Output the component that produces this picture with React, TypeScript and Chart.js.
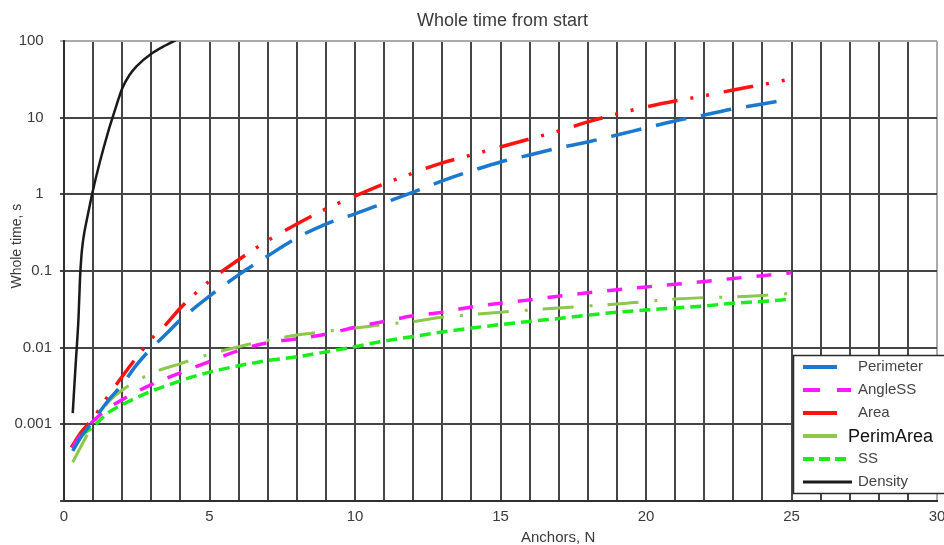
import React, { useEffect, useRef } from 'react';
import { Chart, registerables } from 'chart.js';

Chart.register(...registerables);

// ---------------- data ----------------
const TITLE = 'Whole time from start';
const X_TITLE = 'Anchors, N';
const Y_TITLE = 'Whole time, s';

const SERIES_NAMES = ['Perimeter', 'AngleSS', 'Area', 'PerimArea', 'SS', 'Density'];

const N_PERIMETER = [0.3, 0.6, 1, 1.5, 2, 2.5, 3, 3.5, 4, 5, 6, 7, 8, 9, 10, 11, 12, 13, 14, 15, 16, 17, 18, 19, 20, 21, 22, 23, 24, 25];
const PERIMETER = [0.00045, 0.0007, 0.0011, 0.002, 0.0033, 0.006, 0.0098, 0.015, 0.023, 0.047, 0.089, 0.157, 0.27, 0.41, 0.555, 0.77, 1.07, 1.5, 2.02, 2.64, 3.26, 4.03, 4.82, 5.95, 7.34, 9.06, 10.8, 13.0, 15.1, 17.5];

const N_AREA = [0.25, 0.6, 1, 1.5, 2, 2.5, 3, 3.5, 4, 5, 6, 7, 8, 9, 10, 11, 12, 13, 14, 15, 16, 17, 18, 19, 20, 21, 22, 23, 24, 25];
const AREA = [0.0005, 0.0008, 0.0012, 0.0023, 0.0042, 0.0075, 0.013, 0.02, 0.033, 0.074, 0.14, 0.25, 0.41, 0.645, 0.95, 1.37, 1.9, 2.57, 3.26, 4.15, 5.28, 6.7, 8.8, 11.2, 13.8, 16.5, 19.3, 23, 27, 32];

const N_SMALL = [0.3, 0.6, 1, 1.5, 2, 3, 4, 5, 6, 7, 8, 9, 10, 11, 12, 13, 14, 15, 16, 17, 18, 19, 20, 21, 22, 23, 24, 25];
const ANGLE_SS = [0.0005, 0.00075, 0.0011, 0.0016, 0.0021, 0.0033, 0.0047, 0.0066, 0.0092, 0.0116, 0.013, 0.015, 0.0185, 0.022, 0.026, 0.029, 0.034, 0.038, 0.042, 0.047, 0.052, 0.057, 0.062, 0.067, 0.073, 0.08, 0.087, 0.095];
const PERIM_AREA = [0.00032, 0.00053, 0.001, 0.0019, 0.0028, 0.0046, 0.0062, 0.0082, 0.0103, 0.0125, 0.0146, 0.0163, 0.018, 0.02, 0.022, 0.025, 0.027, 0.029, 0.031, 0.033, 0.035, 0.037, 0.04, 0.043, 0.045, 0.046, 0.048, 0.051];
const SS = [0.00048, 0.0007, 0.00093, 0.0014, 0.0018, 0.0027, 0.0037, 0.0048, 0.0058, 0.0068, 0.0076, 0.0088, 0.0103, 0.0122, 0.014, 0.016, 0.018, 0.02, 0.022, 0.024, 0.0265, 0.029, 0.031, 0.033, 0.035, 0.038, 0.04, 0.043];

const N_DENSITY = [0.3, 0.4, 0.5, 0.55, 0.6, 0.65, 0.7, 0.8, 1, 1.25, 1.5, 1.75, 2, 2.25, 2.5, 3, 3.5, 4];
const DENSITY = [0.0014, 0.006, 0.025, 0.08, 0.16, 0.24, 0.32, 0.5, 1.15, 2.8, 6.2, 12.5, 24, 36, 47, 68, 88, 110];

const Y_TICKS = [0.0001, 0.001, 0.01, 0.1, 1, 10, 100];
const Y_TICK_LABELS = ['', '0.001', '0.01', '0.1', '1', '10', '100'];
const X_MIN = 0;
const X_MAX = 30;
const X_LABEL_STEP = 5;

// ---------------- style ----------------
const FONT = '"Liberation Sans", Arial, sans-serif';
const TEXT = '#3a3a3a';
const GRID = '#454545';
const LIGHT = '#ababab';
const COLORS = ['#1a78cf', '#ff19ff', '#ff1212', '#8cc84b', '#1aee1a', '#1a1a1a'];
const DASHES = [[31, 15], [15, 15], [30, 13, 3, 13, 3, 15], [31, 16, 3, 15], [11, 6], []];
const WIDTHS = [3.5, 3.5, 3.5, 3, 3.5, 2.5];
const LEGEND_DASH = [[], [17, 17], [], [], [11, 5], []];

const toPoints = (xs: number[], ys: number[]) => xs.map((x, i) => ({ x, y: ys[i] }));

const SERIES_X = [N_PERIMETER, N_SMALL, N_AREA, N_SMALL, N_SMALL, N_DENSITY];
const SERIES_Y = [PERIMETER, ANGLE_SS, AREA, PERIM_AREA, SS, DENSITY];

const textPlugin = {
  id: 'textTitles',
  afterDraw(chart: any) {
    const ctx = chart.ctx as CanvasRenderingContext2D;
    const a = chart.chartArea;
    ctx.save();
    ctx.fillStyle = TEXT;
    ctx.textAlign = 'center';
    ctx.textBaseline = 'alphabetic';
    ctx.font = `18px ${FONT}`;
    ctx.fillText(TITLE, (a.left + a.right) / 2 + 2, 26);
    ctx.font = `15px ${FONT}`;
    ctx.fillText(X_TITLE, a.left + (a.right - a.left) * 0.566, 542);
    ctx.translate(21, a.top + (a.bottom - a.top) * 0.446);
    ctx.rotate(-Math.PI / 2);
    ctx.font = `14px ${FONT}`;
    ctx.fillText(Y_TITLE, 0, 0);
    ctx.restore();
  },
};

const legendPlugin = {
  id: 'boxLegend',
  afterDraw(chart: any) {
    const ctx = chart.ctx as CanvasRenderingContext2D;
    ctx.save();
    const bx = 793.5, by = 355.5, bw = 170, bh = 138;
    ctx.fillStyle = '#ffffff';
    ctx.fillRect(bx, by, bw, bh);
    ctx.strokeStyle = '#2a2a2a';
    ctx.lineWidth = 1.5;
    ctx.strokeRect(bx, by, bw, bh);
    SERIES_NAMES.forEach((name, i) => {
      const y = 367 + i * 23;
      ctx.beginPath();
      ctx.setLineDash(LEGEND_DASH[i]);
      ctx.strokeStyle = COLORS[i];
      ctx.lineWidth = i === 5 ? 3 : 4;
      ctx.moveTo(803, y);
      ctx.lineTo(i === 5 ? 852 : i === 1 || i === 4 ? 851 : 837, y);
      ctx.stroke();
      ctx.setLineDash([]);
      ctx.textAlign = 'left';
      ctx.textBaseline = 'middle';
      if (name === 'PerimArea') {
        ctx.font = `18px ${FONT}`;
        ctx.fillStyle = '#111111';
        ctx.fillText(name, 848, y + 1);
      } else {
        ctx.font = `15px ${FONT}`;
        ctx.fillStyle = '#444444';
        ctx.fillText(name, 858, y);
      }
    });
    ctx.restore();
  },
};

export default function App() {
  const ref = useRef<HTMLCanvasElement>(null);

  useEffect(() => {
    const canvas = ref.current;
    if (!canvas) return;
    const datasets = SERIES_NAMES.map((name, i) => ({
      label: name,
      data: toPoints(SERIES_X[i], SERIES_Y[i]),
      borderColor: COLORS[i],
      backgroundColor: COLORS[i],
      borderWidth: WIDTHS[i],
      borderDash: DASHES[i],
      borderCapStyle: 'butt' as const,
      pointRadius: 0,
      fill: false,
      cubicInterpolationMode: 'monotone' as const,
      clip: 0,
    }));

    const chart = new Chart(canvas, {
      type: 'line',
      data: { datasets },
      options: {
        responsive: false,
        animation: false,
        events: [],
        layout: { padding: { top: 41, right: 7, left: 0, bottom: 0 } },
        plugins: {
          legend: { display: false },
          title: { display: false },
          tooltip: { enabled: false },
        },
        scales: {
          x: {
            type: 'linear',
            min: X_MIN,
            max: X_MAX,
            ticks: {
              stepSize: 1,
              autoSkip: false,
              maxRotation: 0,
              padding: 7,
              color: TEXT,
              font: { family: FONT, size: 15 },
              callback: (v: any) => (Number(v) % X_LABEL_STEP === 0 ? String(v) : ''),
            },
            grid: {
              color: (c: any) => (c.tick && c.tick.value === X_MAX ? LIGHT : GRID),
              lineWidth: 2,
              drawTicks: false,
            },
            border: { color: '#303030', width: 2 },
            afterFit: (s: any) => {
              s.height = 44;
              s.paddingLeft = 0;
              s.paddingRight = 0;
            },
          },
          y: {
            type: 'logarithmic',
            min: Y_TICKS[0],
            max: Y_TICKS[Y_TICKS.length - 1],
            afterBuildTicks: (s: any) => {
              s.ticks = Y_TICKS.map((v) => ({ value: v }));
            },
            ticks: {
              padding: 8,
              color: TEXT,
              font: { family: FONT, size: 15 },
              callback: (v: any) => {
                const idx = Y_TICKS.findIndex((t) => Math.abs(t - Number(v)) / t < 1e-6);
                if (idx < 0) return '';
                const lab = Y_TICK_LABELS[idx];
                return Number(v) >= 1 ? lab + '  ' : lab;
              },
            },
            grid: {
              color: (c: any) => (c.tick && c.tick.value === Y_TICKS[Y_TICKS.length - 1] ? LIGHT : GRID),
              lineWidth: 2,
              drawTicks: true,
              tickLength: 4,
            },
            border: { color: '#303030', width: 2 },
            afterFit: (s: any) => {
              s.width = 64;
              s.paddingTop = 0;
              s.paddingBottom = 0;
            },
          },
        },
      } as any,
      plugins: [textPlugin, legendPlugin],
    });
    return () => chart.destroy();
  }, []);

  return (
    <div style={{ position: 'absolute', left: 0, top: 0, width: 944, height: 545, background: '#ffffff' }}>
      <canvas ref={ref} width={944} height={545} style={{ display: 'block' }} />
    </div>
  );
}
